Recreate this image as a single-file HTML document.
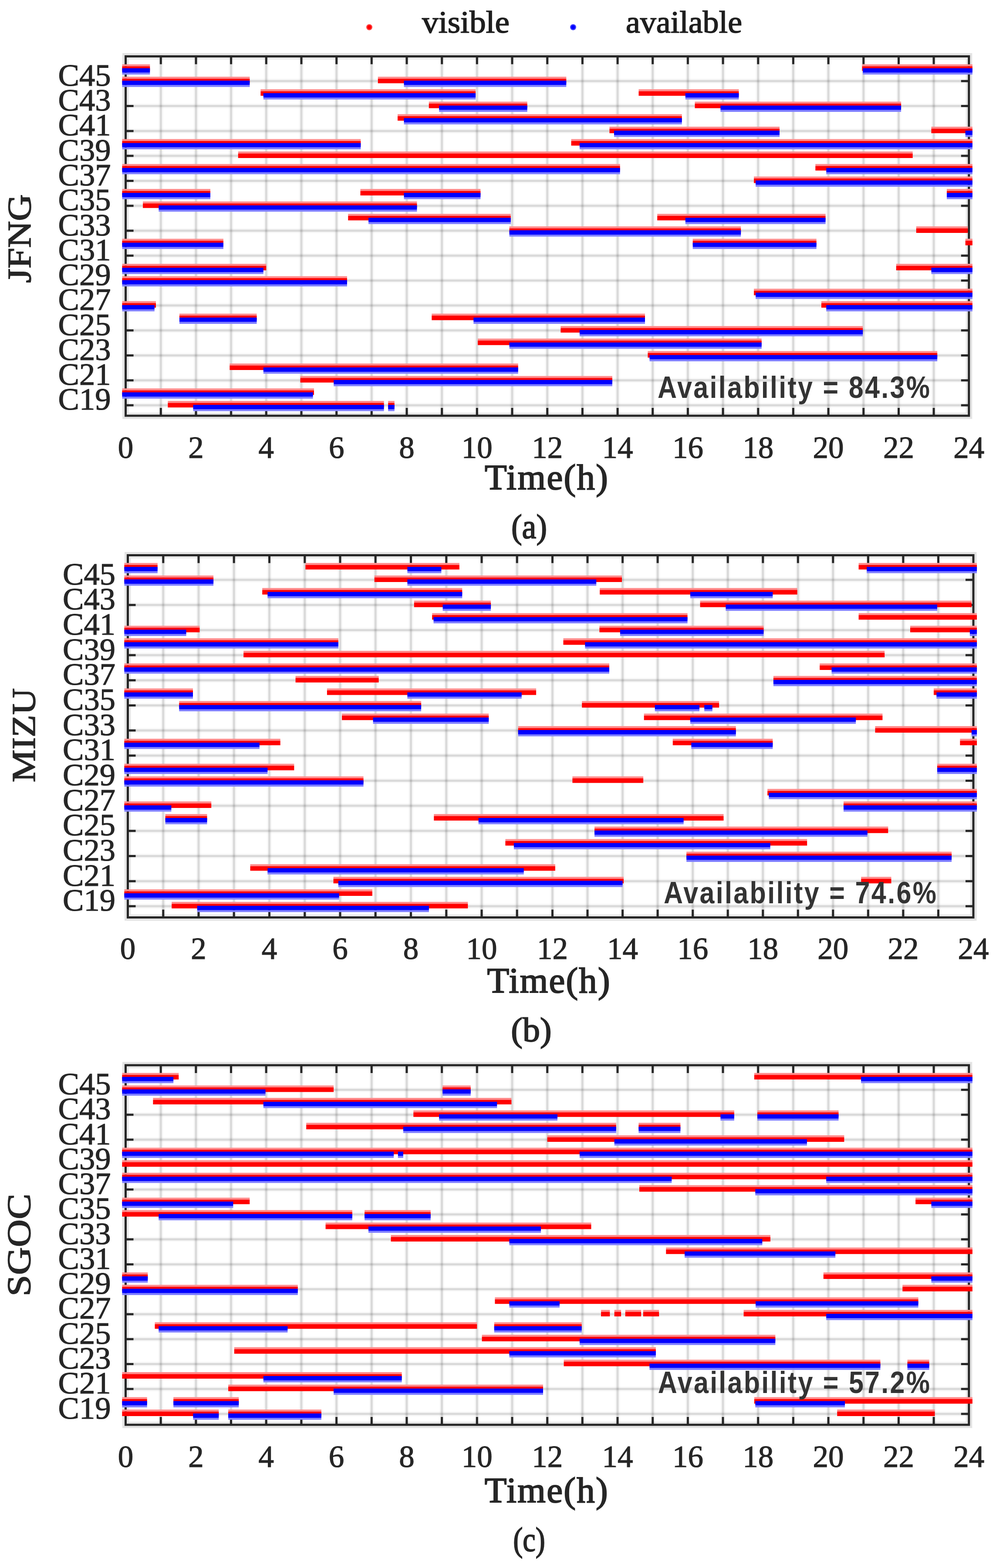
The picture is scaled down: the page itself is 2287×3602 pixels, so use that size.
<!DOCTYPE html>
<html><head><meta charset="utf-8"><title>Satellite visibility and availability</title>
<style>
html,body{margin:0;padding:0;background:#fff;}
body{width:2287px;height:3602px;overflow:hidden;}
svg{display:block;}
.yl{font-family:"Liberation Serif",serif;font-size:72px;fill:#262626;stroke:#262626;stroke-width:1.2px;}
.xl{font-family:"Liberation Serif",serif;font-size:71px;fill:#262626;stroke:#262626;stroke-width:1.2px;}
.tl{font-family:"Liberation Serif",serif;font-size:83px;fill:#262626;stroke:#262626;stroke-width:2.2px;}
.cap{font-family:"Liberation Serif",serif;font-size:78px;fill:#262626;stroke:#262626;stroke-width:2px;}
.nm{font-family:"Liberation Serif",serif;font-size:77px;fill:#262626;stroke:#262626;stroke-width:1.6px;}
.av{font-family:"Liberation Sans",sans-serif;font-size:71px;font-weight:bold;fill:#333;}
.lg{font-family:"Liberation Serif",serif;font-size:72px;fill:#1e1e1e;stroke:#1e1e1e;stroke-width:1.6px;}
</style></head>
<body><svg width="2287" height="3602" viewBox="0 0 2287 3602">
<rect width="2287" height="3602" fill="#fff"/>
<rect x="283.6" y="124.5" width="1946.2" height="835.5" fill="none" stroke="#e3e3e3" stroke-width="5"/>
<rect x="293.6" y="134.5" width="1926.2" height="815.5" fill="none" stroke="#e8e8e8" stroke-width="4"/>
<path d="M369.3 129.5V955.0M450.0 129.5V955.0M530.6 129.5V955.0M611.3 129.5V955.0M692.0 129.5V955.0M772.7 129.5V955.0M853.3 129.5V955.0M934.0 129.5V955.0M1014.7 129.5V955.0M1095.3 129.5V955.0M1176.0 129.5V955.0M1256.7 129.5V955.0M1337.4 129.5V955.0M1418.1 129.5V955.0M1498.7 129.5V955.0M1579.4 129.5V955.0M1660.1 129.5V955.0M1740.8 129.5V955.0M1821.4 129.5V955.0M1902.1 129.5V955.0M1982.8 129.5V955.0M2063.5 129.5V955.0M2144.1 129.5V955.0" stroke="#262626" stroke-opacity="0.03" stroke-width="11" fill="none"/>
<path d="M369.3 129.5V955.0M450.0 129.5V955.0M530.6 129.5V955.0M611.3 129.5V955.0M692.0 129.5V955.0M772.7 129.5V955.0M853.3 129.5V955.0M934.0 129.5V955.0M1014.7 129.5V955.0M1095.3 129.5V955.0M1176.0 129.5V955.0M1256.7 129.5V955.0M1337.4 129.5V955.0M1418.1 129.5V955.0M1498.7 129.5V955.0M1579.4 129.5V955.0M1660.1 129.5V955.0M1740.8 129.5V955.0M1821.4 129.5V955.0M1902.1 129.5V955.0M1982.8 129.5V955.0M2063.5 129.5V955.0M2144.1 129.5V955.0" stroke="#262626" stroke-opacity="0.14" stroke-width="5" fill="none"/>
<path d="M288.6 186.3H2224.8M288.6 243.6H2224.8M288.6 300.9H2224.8M288.6 358.1H2224.8M288.6 415.4H2224.8M288.6 472.7H2224.8M288.6 530.0H2224.8M288.6 587.3H2224.8M288.6 644.5H2224.8M288.6 701.8H2224.8M288.6 759.1H2224.8M288.6 816.4H2224.8M288.6 873.7H2224.8M288.6 930.9H2224.8" stroke="#262626" stroke-opacity="0.03" stroke-width="11" fill="none"/>
<path d="M288.6 186.3H2224.8M288.6 243.6H2224.8M288.6 300.9H2224.8M288.6 358.1H2224.8M288.6 415.4H2224.8M288.6 472.7H2224.8M288.6 530.0H2224.8M288.6 587.3H2224.8M288.6 644.5H2224.8M288.6 701.8H2224.8M288.6 759.1H2224.8M288.6 816.4H2224.8M288.6 873.7H2224.8M288.6 930.9H2224.8" stroke="#262626" stroke-opacity="0.14" stroke-width="5" fill="none"/>
<rect x="288.6" y="129.5" width="1936.2" height="825.5" fill="none" stroke="#262626" stroke-width="5"/>
<path d="M369.3 129.5v18M369.3 955.0v-18M450.0 129.5v18M450.0 955.0v-18M530.6 129.5v18M530.6 955.0v-18M611.3 129.5v18M611.3 955.0v-18M692.0 129.5v18M692.0 955.0v-18M772.7 129.5v18M772.7 955.0v-18M853.3 129.5v18M853.3 955.0v-18M934.0 129.5v18M934.0 955.0v-18M1014.7 129.5v18M1014.7 955.0v-18M1095.3 129.5v18M1095.3 955.0v-18M1176.0 129.5v18M1176.0 955.0v-18M1256.7 129.5v18M1256.7 955.0v-18M1337.4 129.5v18M1337.4 955.0v-18M1418.1 129.5v18M1418.1 955.0v-18M1498.7 129.5v18M1498.7 955.0v-18M1579.4 129.5v18M1579.4 955.0v-18M1660.1 129.5v18M1660.1 955.0v-18M1740.8 129.5v18M1740.8 955.0v-18M1821.4 129.5v18M1821.4 955.0v-18M1902.1 129.5v18M1902.1 955.0v-18M1982.8 129.5v18M1982.8 955.0v-18M2063.5 129.5v18M2063.5 955.0v-18M2144.1 129.5v18M2144.1 955.0v-18M288.6 186.3h18M2224.8 186.3h-18M288.6 243.6h18M2224.8 243.6h-18M288.6 300.9h18M2224.8 300.9h-18M288.6 358.1h18M2224.8 358.1h-18M288.6 415.4h18M2224.8 415.4h-18M288.6 472.7h18M2224.8 472.7h-18M288.6 530.0h18M2224.8 530.0h-18M288.6 587.3h18M2224.8 587.3h-18M288.6 644.5h18M2224.8 644.5h-18M288.6 701.8h18M2224.8 701.8h-18M288.6 759.1h18M2224.8 759.1h-18M288.6 816.4h18M2224.8 816.4h-18M288.6 873.7h18M2224.8 873.7h-18M288.6 930.9h18M2224.8 930.9h-18" stroke="#262626" stroke-width="5" fill="none"/>
<path d="M280.5 147.7H344.3V152.2H280.5ZM1979.5 147.7H2232.9V152.2H1979.5ZM280.5 176.3H573.4V180.8H280.5ZM867.8 176.3H1300.3V180.8H867.8ZM598.4 204.9H1092.1V209.4H598.4ZM1466.5 204.9H1696.4V209.4H1466.5ZM984.8 233.6H1210.7V238.1H984.8ZM1595.5 233.6H2069.1V238.1H1595.5ZM913.0 262.2H1565.7V266.7H913.0ZM1399.5 290.9H1790.0V295.4H1399.5ZM2138.5 290.9H2232.9V295.4H2138.5ZM280.5 319.5H828.3V324.0H280.5ZM1311.6 319.5H2232.9V324.0H1311.6ZM546.8 348.1H2095.7V352.6H546.8ZM280.5 376.8H1423.7V381.3H280.5ZM1872.3 376.8H2232.9V381.3H1872.3ZM1731.1 405.4H2232.9V409.9H1731.1ZM280.5 434.1H483.0V438.6H280.5ZM827.5 434.1H1103.4V438.6H827.5ZM2174.0 434.1H2232.9V438.6H2174.0ZM328.1 462.7H957.4V467.2H328.1ZM799.3 491.3H1172.8V495.8H799.3ZM1509.2 491.3H1895.6V495.8H1509.2ZM1169.6 520.0H1701.2V524.5H1169.6ZM2103.8 520.0H2222.4V524.5H2103.8ZM280.5 548.6H512.9V553.1H280.5ZM1590.7 548.6H1874.7V553.1H1590.7ZM2216.7 548.6H2232.9V553.1H2216.7ZM280.5 605.9H611.3V610.4H280.5ZM2057.8 605.9H2232.9V610.4H2057.8ZM280.5 634.5H796.9V639.0H280.5ZM1731.1 663.2H2232.9V667.7H1731.1ZM280.5 691.8H358.0V696.3H280.5ZM1886.0 691.8H2232.9V696.3H1886.0ZM412.0 720.5H589.5V725.0H412.0ZM991.3 720.5H1481.0V725.0H991.3ZM1287.4 749.1H1981.2V753.6H1287.4ZM1097.0 777.7H1748.8V782.2H1097.0ZM1487.4 806.4H2152.2V810.9H1487.4ZM527.4 835.0H1189.7V839.5H527.4ZM689.6 863.7H1405.9V868.2H689.6ZM280.5 892.3H721.0V896.8H280.5ZM385.4 920.9H881.6V925.4H385.4ZM891.2 920.9H905.8V925.4H891.2Z" fill="#ff8c8c"/>
<path d="M280.5 152.2H344.3V162.7H280.5ZM1979.5 152.2H2232.9V162.7H1979.5ZM280.5 180.8H573.4V191.3H280.5ZM867.8 180.8H1300.3V191.3H867.8ZM598.4 209.4H1092.1V219.9H598.4ZM1466.5 209.4H1696.4V219.9H1466.5ZM984.8 238.1H1210.7V248.6H984.8ZM1595.5 238.1H2069.1V248.6H1595.5ZM913.0 266.7H1565.7V277.2H913.0ZM1399.5 295.4H1790.0V305.9H1399.5ZM2138.5 295.4H2232.9V305.9H2138.5ZM280.5 324.0H828.3V334.5H280.5ZM1311.6 324.0H2232.9V334.5H1311.6ZM546.8 352.6H2095.7V363.1H546.8ZM280.5 381.3H1423.7V391.8H280.5ZM1872.3 381.3H2232.9V391.8H1872.3ZM1731.1 409.9H2232.9V420.4H1731.1ZM280.5 438.6H483.0V449.1H280.5ZM827.5 438.6H1103.4V449.1H827.5ZM2174.0 438.6H2232.9V449.1H2174.0ZM328.1 467.2H957.4V477.7H328.1ZM799.3 495.8H1172.8V506.3H799.3ZM1509.2 495.8H1895.6V506.3H1509.2ZM1169.6 524.5H1701.2V535.0H1169.6ZM2103.8 524.5H2222.4V535.0H2103.8ZM280.5 553.1H512.9V563.6H280.5ZM1590.7 553.1H1874.7V563.6H1590.7ZM2216.7 553.1H2232.9V563.6H2216.7ZM280.5 610.4H611.3V620.9H280.5ZM2057.8 610.4H2232.9V620.9H2057.8ZM280.5 639.0H796.9V649.5H280.5ZM1731.1 667.7H2232.9V678.2H1731.1ZM280.5 696.3H358.0V706.8H280.5ZM1886.0 696.3H2232.9V706.8H1886.0ZM412.0 725.0H589.5V735.5H412.0ZM991.3 725.0H1481.0V735.5H991.3ZM1287.4 753.6H1981.2V764.1H1287.4ZM1097.0 782.2H1748.8V792.7H1097.0ZM1487.4 810.9H2152.2V821.4H1487.4ZM527.4 839.5H1189.7V850.0H527.4ZM689.6 868.2H1405.9V878.7H689.6ZM280.5 896.8H721.0V907.3H280.5ZM385.4 925.4H881.6V935.9H385.4ZM891.2 925.4H905.8V935.9H891.2Z" fill="#ff0000"/>
<path d="M280.5 166.7H344.3V171.2H280.5ZM1981.2 166.7H2232.9V171.2H1981.2ZM280.5 195.3H573.4V199.8H280.5ZM927.5 195.3H1300.3V199.8H927.5ZM604.8 223.9H1092.1V228.4H604.8ZM1573.8 223.9H1696.4V228.4H1573.8ZM1008.2 252.6H1210.7V257.1H1008.2ZM1654.4 252.6H2069.1V257.1H1654.4ZM927.5 281.2H1565.7V285.7H927.5ZM1410.0 309.9H1790.0V314.4H1410.0ZM2216.7 309.9H2232.9V314.4H2216.7ZM280.5 338.5H828.3V343.0H280.5ZM1330.9 338.5H2232.9V343.0H1330.9ZM280.5 395.8H1423.7V400.3H280.5ZM1897.3 395.8H2232.9V400.3H1897.3ZM1735.1 424.4H2232.9V428.9H1735.1ZM280.5 453.1H483.0V457.6H280.5ZM927.5 453.1H1103.4V457.6H927.5ZM2174.0 453.1H2232.9V457.6H2174.0ZM364.4 481.7H957.4V486.2H364.4ZM846.1 510.3H1172.8V514.8H846.1ZM1573.8 510.3H1895.6V514.8H1573.8ZM1169.6 539.0H1701.2V543.5H1169.6ZM280.5 567.6H512.9V572.1H280.5ZM1590.7 567.6H1874.7V572.1H1590.7ZM280.5 624.9H604.8V629.4H280.5ZM2138.5 624.9H2232.9V629.4H2138.5ZM280.5 653.5H796.9V658.0H280.5ZM1735.1 682.2H2232.9V686.7H1735.1ZM280.5 710.8H354.8V715.3H280.5ZM1897.3 710.8H2232.9V715.3H1897.3ZM412.0 739.5H589.5V744.0H412.0ZM1087.3 739.5H1481.0V744.0H1087.3ZM1330.9 768.1H1981.2V772.6H1330.9ZM1169.6 796.7H1748.8V801.2H1169.6ZM1491.5 825.4H2152.2V829.9H1491.5ZM604.8 854.0H1189.7V858.5H604.8ZM766.2 882.7H1405.9V887.2H766.2ZM280.5 911.3H718.6V915.8H280.5ZM443.5 939.9H881.6V944.4H443.5ZM891.2 939.9H905.8V944.4H891.2Z" fill="#8080ff"/>
<path d="M280.5 156.7H344.3V166.7H280.5ZM1981.2 156.7H2232.9V166.7H1981.2ZM280.5 185.3H573.4V195.3H280.5ZM927.5 185.3H1300.3V195.3H927.5ZM604.8 213.9H1092.1V223.9H604.8ZM1573.8 213.9H1696.4V223.9H1573.8ZM1008.2 242.6H1210.7V252.6H1008.2ZM1654.4 242.6H2069.1V252.6H1654.4ZM927.5 271.2H1565.7V281.2H927.5ZM1410.0 299.9H1790.0V309.9H1410.0ZM2216.7 299.9H2232.9V309.9H2216.7ZM280.5 328.5H828.3V338.5H280.5ZM1330.9 328.5H2232.9V338.5H1330.9ZM280.5 385.8H1423.7V395.8H280.5ZM1897.3 385.8H2232.9V395.8H1897.3ZM1735.1 414.4H2232.9V424.4H1735.1ZM280.5 443.1H483.0V453.1H280.5ZM927.5 443.1H1103.4V453.1H927.5ZM2174.0 443.1H2232.9V453.1H2174.0ZM364.4 471.7H957.4V481.7H364.4ZM846.1 500.3H1172.8V510.3H846.1ZM1573.8 500.3H1895.6V510.3H1573.8ZM1169.6 529.0H1701.2V539.0H1169.6ZM280.5 557.6H512.9V567.6H280.5ZM1590.7 557.6H1874.7V567.6H1590.7ZM280.5 614.9H604.8V624.9H280.5ZM2138.5 614.9H2232.9V624.9H2138.5ZM280.5 643.5H796.9V653.5H280.5ZM1735.1 672.2H2232.9V682.2H1735.1ZM280.5 700.8H354.8V710.8H280.5ZM1897.3 700.8H2232.9V710.8H1897.3ZM412.0 729.5H589.5V739.5H412.0ZM1087.3 729.5H1481.0V739.5H1087.3ZM1330.9 758.1H1981.2V768.1H1330.9ZM1169.6 786.7H1748.8V796.7H1169.6ZM1491.5 815.4H2152.2V825.4H1491.5ZM604.8 844.0H1189.7V854.0H604.8ZM766.2 872.7H1405.9V882.7H766.2ZM280.5 901.3H718.6V911.3H280.5ZM443.5 929.9H881.6V939.9H443.5ZM891.2 929.9H905.8V939.9H891.2Z" fill="#0000ff"/>
<text x="254.5" y="196.8" class="yl" text-anchor="end" textLength="121" lengthAdjust="spacingAndGlyphs">C45</text>
<text x="254.5" y="254.1" class="yl" text-anchor="end" textLength="121" lengthAdjust="spacingAndGlyphs">C43</text>
<text x="254.5" y="311.4" class="yl" text-anchor="end" textLength="121" lengthAdjust="spacingAndGlyphs">C41</text>
<text x="254.5" y="368.6" class="yl" text-anchor="end" textLength="121" lengthAdjust="spacingAndGlyphs">C39</text>
<text x="254.5" y="425.9" class="yl" text-anchor="end" textLength="121" lengthAdjust="spacingAndGlyphs">C37</text>
<text x="254.5" y="483.2" class="yl" text-anchor="end" textLength="121" lengthAdjust="spacingAndGlyphs">C35</text>
<text x="254.5" y="540.5" class="yl" text-anchor="end" textLength="121" lengthAdjust="spacingAndGlyphs">C33</text>
<text x="254.5" y="597.8" class="yl" text-anchor="end" textLength="121" lengthAdjust="spacingAndGlyphs">C31</text>
<text x="254.5" y="655.0" class="yl" text-anchor="end" textLength="121" lengthAdjust="spacingAndGlyphs">C29</text>
<text x="254.5" y="712.3" class="yl" text-anchor="end" textLength="121" lengthAdjust="spacingAndGlyphs">C27</text>
<text x="254.5" y="769.6" class="yl" text-anchor="end" textLength="121" lengthAdjust="spacingAndGlyphs">C25</text>
<text x="254.5" y="826.9" class="yl" text-anchor="end" textLength="121" lengthAdjust="spacingAndGlyphs">C23</text>
<text x="254.5" y="884.2" class="yl" text-anchor="end" textLength="121" lengthAdjust="spacingAndGlyphs">C21</text>
<text x="254.5" y="941.4" class="yl" text-anchor="end" textLength="121" lengthAdjust="spacingAndGlyphs">C19</text>
<text x="288.6" y="1051.5" class="xl" text-anchor="middle">0</text>
<text x="450.0" y="1051.5" class="xl" text-anchor="middle">2</text>
<text x="611.3" y="1051.5" class="xl" text-anchor="middle">4</text>
<text x="772.7" y="1051.5" class="xl" text-anchor="middle">6</text>
<text x="934.0" y="1051.5" class="xl" text-anchor="middle">8</text>
<text x="1095.3" y="1051.5" class="xl" text-anchor="middle">10</text>
<text x="1256.7" y="1051.5" class="xl" text-anchor="middle">12</text>
<text x="1418.1" y="1051.5" class="xl" text-anchor="middle">14</text>
<text x="1579.4" y="1051.5" class="xl" text-anchor="middle">16</text>
<text x="1740.8" y="1051.5" class="xl" text-anchor="middle">18</text>
<text x="1902.1" y="1051.5" class="xl" text-anchor="middle">20</text>
<text x="2063.5" y="1051.5" class="xl" text-anchor="middle">22</text>
<text x="2224.8" y="1051.5" class="xl" text-anchor="middle">24</text>
<text x="1113.0" y="1123.5" class="tl" textLength="283.0" lengthAdjust="spacing">Time(h)</text>
<text x="1174.0" y="1236.0" class="cap" textLength="82.0" lengthAdjust="spacingAndGlyphs">(a)</text>
<text transform="translate(70.0,650.0) rotate(-90)" x="0" y="0" class="nm" textLength="204.0" lengthAdjust="spacingAndGlyphs">JFNG</text>
<text transform="translate(1510.0,913.5) scale(0.86,1)" x="0" y="0" class="av" textLength="726.7" lengthAdjust="spacing">Availability = 84.3%</text>
<rect x="288.5" y="1270.5" width="1951.5" height="842.0" fill="none" stroke="#e3e3e3" stroke-width="5"/>
<rect x="298.5" y="1280.5" width="1931.5" height="822.0" fill="none" stroke="#e8e8e8" stroke-width="4"/>
<path d="M374.8 1275.5V2107.5M456.0 1275.5V2107.5M537.2 1275.5V2107.5M618.5 1275.5V2107.5M699.8 1275.5V2107.5M781.0 1275.5V2107.5M862.2 1275.5V2107.5M943.5 1275.5V2107.5M1024.8 1275.5V2107.5M1106.0 1275.5V2107.5M1187.2 1275.5V2107.5M1268.5 1275.5V2107.5M1349.0 1275.5V2107.5M1429.6 1275.5V2107.5M1510.1 1275.5V2107.5M1590.7 1275.5V2107.5M1671.2 1275.5V2107.5M1751.8 1275.5V2107.5M1832.3 1275.5V2107.5M1912.8 1275.5V2107.5M1993.4 1275.5V2107.5M2073.9 1275.5V2107.5M2154.5 1275.5V2107.5" stroke="#262626" stroke-opacity="0.03" stroke-width="11" fill="none"/>
<path d="M374.8 1275.5V2107.5M456.0 1275.5V2107.5M537.2 1275.5V2107.5M618.5 1275.5V2107.5M699.8 1275.5V2107.5M781.0 1275.5V2107.5M862.2 1275.5V2107.5M943.5 1275.5V2107.5M1024.8 1275.5V2107.5M1106.0 1275.5V2107.5M1187.2 1275.5V2107.5M1268.5 1275.5V2107.5M1349.0 1275.5V2107.5M1429.6 1275.5V2107.5M1510.1 1275.5V2107.5M1590.7 1275.5V2107.5M1671.2 1275.5V2107.5M1751.8 1275.5V2107.5M1832.3 1275.5V2107.5M1912.8 1275.5V2107.5M1993.4 1275.5V2107.5M2073.9 1275.5V2107.5M2154.5 1275.5V2107.5" stroke="#262626" stroke-opacity="0.14" stroke-width="5" fill="none"/>
<path d="M293.5 1332.0H2235.0M293.5 1389.7H2235.0M293.5 1447.4H2235.0M293.5 1505.0H2235.0M293.5 1562.7H2235.0M293.5 1620.4H2235.0M293.5 1678.1H2235.0M293.5 1735.8H2235.0M293.5 1793.4H2235.0M293.5 1851.1H2235.0M293.5 1908.8H2235.0M293.5 1966.5H2235.0M293.5 2024.2H2235.0M293.5 2081.8H2235.0" stroke="#262626" stroke-opacity="0.03" stroke-width="11" fill="none"/>
<path d="M293.5 1332.0H2235.0M293.5 1389.7H2235.0M293.5 1447.4H2235.0M293.5 1505.0H2235.0M293.5 1562.7H2235.0M293.5 1620.4H2235.0M293.5 1678.1H2235.0M293.5 1735.8H2235.0M293.5 1793.4H2235.0M293.5 1851.1H2235.0M293.5 1908.8H2235.0M293.5 1966.5H2235.0M293.5 2024.2H2235.0M293.5 2081.8H2235.0" stroke="#262626" stroke-opacity="0.14" stroke-width="5" fill="none"/>
<rect x="293.5" y="1275.5" width="1941.5" height="832.0" fill="none" stroke="#262626" stroke-width="5"/>
<path d="M374.8 1275.5v18M374.8 2107.5v-18M456.0 1275.5v18M456.0 2107.5v-18M537.2 1275.5v18M537.2 2107.5v-18M618.5 1275.5v18M618.5 2107.5v-18M699.8 1275.5v18M699.8 2107.5v-18M781.0 1275.5v18M781.0 2107.5v-18M862.2 1275.5v18M862.2 2107.5v-18M943.5 1275.5v18M943.5 2107.5v-18M1024.8 1275.5v18M1024.8 2107.5v-18M1106.0 1275.5v18M1106.0 2107.5v-18M1187.2 1275.5v18M1187.2 2107.5v-18M1268.5 1275.5v18M1268.5 2107.5v-18M1349.0 1275.5v18M1349.0 2107.5v-18M1429.6 1275.5v18M1429.6 2107.5v-18M1510.1 1275.5v18M1510.1 2107.5v-18M1590.7 1275.5v18M1590.7 2107.5v-18M1671.2 1275.5v18M1671.2 2107.5v-18M1751.8 1275.5v18M1751.8 2107.5v-18M1832.3 1275.5v18M1832.3 2107.5v-18M1912.8 1275.5v18M1912.8 2107.5v-18M1993.4 1275.5v18M1993.4 2107.5v-18M2073.9 1275.5v18M2073.9 2107.5v-18M2154.5 1275.5v18M2154.5 2107.5v-18M293.5 1332.0h18M2235.0 1332.0h-18M293.5 1389.7h18M2235.0 1389.7h-18M293.5 1447.4h18M2235.0 1447.4h-18M293.5 1505.0h18M2235.0 1505.0h-18M293.5 1562.7h18M2235.0 1562.7h-18M293.5 1620.4h18M2235.0 1620.4h-18M293.5 1678.1h18M2235.0 1678.1h-18M293.5 1735.8h18M2235.0 1735.8h-18M293.5 1793.4h18M2235.0 1793.4h-18M293.5 1851.1h18M2235.0 1851.1h-18M293.5 1908.8h18M2235.0 1908.8h-18M293.5 1966.5h18M2235.0 1966.5h-18M293.5 2024.2h18M2235.0 2024.2h-18M293.5 2081.8h18M2235.0 2081.8h-18" stroke="#262626" stroke-width="5" fill="none"/>
<path d="M285.4 1293.2H361.8V1297.7H285.4ZM701.4 1293.2H1054.8V1297.7H701.4ZM1971.6 1293.2H2243.1V1297.7H1971.6ZM285.4 1322.0H490.1V1326.5H285.4ZM859.8 1322.0H1428.0V1326.5H859.8ZM602.2 1350.8H1061.3V1355.3H602.2ZM1377.2 1350.8H1830.7V1355.3H1377.2ZM950.8 1379.7H1127.1V1384.2H950.8ZM1607.6 1379.7H2231.0V1384.2H1607.6ZM992.2 1408.5H1578.6V1413.0H992.2ZM1971.6 1408.5H2243.1V1413.0H1971.6ZM285.4 1437.4H458.4V1441.9H285.4ZM1376.4 1437.4H1753.4V1441.9H1376.4ZM2090.0 1437.4H2243.1V1441.9H2090.0ZM285.4 1466.2H776.9V1470.7H285.4ZM1293.5 1466.2H2243.1V1470.7H1293.5ZM559.2 1495.0H2031.2V1499.5H559.2ZM285.4 1523.9H1399.0V1528.4H285.4ZM1882.2 1523.9H2243.1V1528.4H1882.2ZM678.6 1552.7H869.6V1557.2H678.6ZM1775.9 1552.7H2243.1V1557.2H1775.9ZM285.4 1581.6H443.0V1586.1H285.4ZM750.9 1581.6H1231.1V1586.1H750.9ZM2144.0 1581.6H2243.1V1586.1H2144.0ZM411.3 1610.4H967.1V1614.9H411.3ZM1336.2 1610.4H1651.1V1614.9H1336.2ZM785.1 1639.2H1122.2V1643.7H785.1ZM1478.7 1639.2H2026.4V1643.7H1478.7ZM1189.7 1668.1H1689.7V1672.6H1189.7ZM2009.5 1668.1H2243.1V1672.6H2009.5ZM285.4 1696.9H643.7V1701.4H285.4ZM1544.8 1696.9H1774.3V1701.4H1544.8ZM2204.4 1696.9H2243.1V1701.4H2204.4ZM285.4 1754.6H675.4V1759.1H285.4ZM2152.0 1754.6H2243.1V1759.1H2152.0ZM285.4 1783.4H834.6V1787.9H285.4ZM1314.4 1783.4H1477.1V1787.9H1314.4ZM1762.2 1812.3H2243.1V1816.8H1762.2ZM285.4 1841.1H485.2V1845.6H285.4ZM1937.0 1841.1H2243.1V1845.6H1937.0ZM379.6 1870.0H475.5V1874.5H379.6ZM996.3 1870.0H1661.5V1874.5H996.3ZM1365.1 1898.8H2039.3V1903.3H1365.1ZM1160.4 1927.6H1853.2V1932.1H1160.4ZM1576.2 1956.5H2185.1V1961.0H1576.2ZM574.6 1985.3H1274.9V1989.8H574.6ZM765.6 2014.2H1432.0V2018.7H765.6ZM1977.3 2014.2H2046.5V2018.7H1977.3ZM285.4 2043.0H854.9V2047.5H285.4ZM394.2 2071.8H1074.3V2076.3H394.2Z" fill="#ff8c8c"/>
<path d="M285.4 1297.7H361.8V1308.2H285.4ZM701.4 1297.7H1054.8V1308.2H701.4ZM1971.6 1297.7H2243.1V1308.2H1971.6ZM285.4 1326.5H490.1V1337.0H285.4ZM859.8 1326.5H1428.0V1337.0H859.8ZM602.2 1355.3H1061.3V1365.8H602.2ZM1377.2 1355.3H1830.7V1365.8H1377.2ZM950.8 1384.2H1127.1V1394.7H950.8ZM1607.6 1384.2H2231.0V1394.7H1607.6ZM992.2 1413.0H1578.6V1423.5H992.2ZM1971.6 1413.0H2243.1V1423.5H1971.6ZM285.4 1441.9H458.4V1452.4H285.4ZM1376.4 1441.9H1753.4V1452.4H1376.4ZM2090.0 1441.9H2243.1V1452.4H2090.0ZM285.4 1470.7H776.9V1481.2H285.4ZM1293.5 1470.7H2243.1V1481.2H1293.5ZM559.2 1499.5H2031.2V1510.0H559.2ZM285.4 1528.4H1399.0V1538.9H285.4ZM1882.2 1528.4H2243.1V1538.9H1882.2ZM678.6 1557.2H869.6V1567.7H678.6ZM1775.9 1557.2H2243.1V1567.7H1775.9ZM285.4 1586.1H443.0V1596.6H285.4ZM750.9 1586.1H1231.1V1596.6H750.9ZM2144.0 1586.1H2243.1V1596.6H2144.0ZM411.3 1614.9H967.1V1625.4H411.3ZM1336.2 1614.9H1651.1V1625.4H1336.2ZM785.1 1643.7H1122.2V1654.2H785.1ZM1478.7 1643.7H2026.4V1654.2H1478.7ZM1189.7 1672.6H1689.7V1683.1H1189.7ZM2009.5 1672.6H2243.1V1683.1H2009.5ZM285.4 1701.4H643.7V1711.9H285.4ZM1544.8 1701.4H1774.3V1711.9H1544.8ZM2204.4 1701.4H2243.1V1711.9H2204.4ZM285.4 1759.1H675.4V1769.6H285.4ZM2152.0 1759.1H2243.1V1769.6H2152.0ZM285.4 1787.9H834.6V1798.4H285.4ZM1314.4 1787.9H1477.1V1798.4H1314.4ZM1762.2 1816.8H2243.1V1827.3H1762.2ZM285.4 1845.6H485.2V1856.1H285.4ZM1937.0 1845.6H2243.1V1856.1H1937.0ZM379.6 1874.5H475.5V1885.0H379.6ZM996.3 1874.5H1661.5V1885.0H996.3ZM1365.1 1903.3H2039.3V1913.8H1365.1ZM1160.4 1932.1H1853.2V1942.6H1160.4ZM1576.2 1961.0H2185.1V1971.5H1576.2ZM574.6 1989.8H1274.9V2000.3H574.6ZM765.6 2018.7H1432.0V2029.2H765.6ZM1977.3 2018.7H2046.5V2029.2H1977.3ZM285.4 2047.5H854.9V2058.0H285.4ZM394.2 2076.3H1074.3V2086.8H394.2Z" fill="#ff0000"/>
<path d="M285.4 1312.2H361.8V1316.7H285.4ZM935.4 1312.2H1013.4V1316.7H935.4ZM1990.2 1312.2H2243.1V1316.7H1990.2ZM285.4 1341.0H490.1V1345.5H285.4ZM935.4 1341.0H1369.2V1345.5H935.4ZM614.4 1369.8H1061.3V1374.3H614.4ZM1585.0 1369.8H1774.3V1374.3H1585.0ZM1016.6 1398.7H1127.1V1403.2H1016.6ZM1666.4 1398.7H2152.0V1403.2H1666.4ZM995.5 1427.5H1578.6V1432.0H995.5ZM285.4 1456.4H427.6V1460.9H285.4ZM1423.9 1456.4H1753.4V1460.9H1423.9ZM2226.9 1456.4H2243.1V1460.9H2226.9ZM285.4 1485.2H776.9V1489.7H285.4ZM1343.4 1485.2H2243.1V1489.7H1343.4ZM285.4 1542.9H1399.0V1547.4H285.4ZM1909.6 1542.9H2243.1V1547.4H1909.6ZM1775.9 1571.7H2243.1V1576.2H1775.9ZM285.4 1600.6H443.0V1605.1H285.4ZM935.4 1600.6H1197.8V1605.1H935.4ZM2150.4 1600.6H2243.1V1605.1H2150.4ZM411.3 1629.4H967.1V1633.9H411.3ZM1503.7 1629.4H1606.0V1633.9H1503.7ZM1617.2 1629.4H1635.8V1633.9H1617.2ZM856.6 1658.2H1122.2V1662.7H856.6ZM1585.0 1658.2H1965.2V1662.7H1585.0ZM1189.7 1687.1H1689.7V1691.6H1189.7ZM2231.0 1687.1H2243.1V1691.6H2231.0ZM285.4 1715.9H595.8V1720.4H285.4ZM1587.4 1715.9H1774.3V1720.4H1587.4ZM285.4 1773.6H614.4V1778.1H285.4ZM2152.0 1773.6H2243.1V1778.1H2152.0ZM285.4 1802.4H834.6V1806.9H285.4ZM1765.4 1831.3H2243.1V1835.8H1765.4ZM285.4 1860.1H393.4V1864.6H285.4ZM1937.0 1860.1H2243.1V1864.6H1937.0ZM379.6 1889.0H475.5V1893.5H379.6ZM1098.7 1889.0H1569.7V1893.5H1098.7ZM1365.1 1917.8H1991.8V1922.3H1365.1ZM1179.9 1946.6H1768.7V1951.1H1179.9ZM1576.2 1975.5H2185.1V1980.0H1576.2ZM614.4 2004.3H1202.7V2008.8H614.4ZM776.9 2033.2H1429.6V2037.7H776.9ZM285.4 2062.0H778.6V2066.5H285.4ZM452.8 2090.8H984.9V2095.3H452.8Z" fill="#8080ff"/>
<path d="M285.4 1302.2H361.8V1312.2H285.4ZM935.4 1302.2H1013.4V1312.2H935.4ZM1990.2 1302.2H2243.1V1312.2H1990.2ZM285.4 1331.0H490.1V1341.0H285.4ZM935.4 1331.0H1369.2V1341.0H935.4ZM614.4 1359.8H1061.3V1369.8H614.4ZM1585.0 1359.8H1774.3V1369.8H1585.0ZM1016.6 1388.7H1127.1V1398.7H1016.6ZM1666.4 1388.7H2152.0V1398.7H1666.4ZM995.5 1417.5H1578.6V1427.5H995.5ZM285.4 1446.4H427.6V1456.4H285.4ZM1423.9 1446.4H1753.4V1456.4H1423.9ZM2226.9 1446.4H2243.1V1456.4H2226.9ZM285.4 1475.2H776.9V1485.2H285.4ZM1343.4 1475.2H2243.1V1485.2H1343.4ZM285.4 1532.9H1399.0V1542.9H285.4ZM1909.6 1532.9H2243.1V1542.9H1909.6ZM1775.9 1561.7H2243.1V1571.7H1775.9ZM285.4 1590.6H443.0V1600.6H285.4ZM935.4 1590.6H1197.8V1600.6H935.4ZM2150.4 1590.6H2243.1V1600.6H2150.4ZM411.3 1619.4H967.1V1629.4H411.3ZM1503.7 1619.4H1606.0V1629.4H1503.7ZM1617.2 1619.4H1635.8V1629.4H1617.2ZM856.6 1648.2H1122.2V1658.2H856.6ZM1585.0 1648.2H1965.2V1658.2H1585.0ZM1189.7 1677.1H1689.7V1687.1H1189.7ZM2231.0 1677.1H2243.1V1687.1H2231.0ZM285.4 1705.9H595.8V1715.9H285.4ZM1587.4 1705.9H1774.3V1715.9H1587.4ZM285.4 1763.6H614.4V1773.6H285.4ZM2152.0 1763.6H2243.1V1773.6H2152.0ZM285.4 1792.4H834.6V1802.4H285.4ZM1765.4 1821.3H2243.1V1831.3H1765.4ZM285.4 1850.1H393.4V1860.1H285.4ZM1937.0 1850.1H2243.1V1860.1H1937.0ZM379.6 1879.0H475.5V1889.0H379.6ZM1098.7 1879.0H1569.7V1889.0H1098.7ZM1365.1 1907.8H1991.8V1917.8H1365.1ZM1179.9 1936.6H1768.7V1946.6H1179.9ZM1576.2 1965.5H2185.1V1975.5H1576.2ZM614.4 1994.3H1202.7V2004.3H614.4ZM776.9 2023.2H1429.6V2033.2H776.9ZM285.4 2052.0H778.6V2062.0H285.4ZM452.8 2080.8H984.9V2090.8H452.8Z" fill="#0000ff"/>
<text x="265.0" y="1342.5" class="yl" text-anchor="end" textLength="121" lengthAdjust="spacingAndGlyphs">C45</text>
<text x="265.0" y="1400.2" class="yl" text-anchor="end" textLength="121" lengthAdjust="spacingAndGlyphs">C43</text>
<text x="265.0" y="1457.9" class="yl" text-anchor="end" textLength="121" lengthAdjust="spacingAndGlyphs">C41</text>
<text x="265.0" y="1515.5" class="yl" text-anchor="end" textLength="121" lengthAdjust="spacingAndGlyphs">C39</text>
<text x="265.0" y="1573.2" class="yl" text-anchor="end" textLength="121" lengthAdjust="spacingAndGlyphs">C37</text>
<text x="265.0" y="1630.9" class="yl" text-anchor="end" textLength="121" lengthAdjust="spacingAndGlyphs">C35</text>
<text x="265.0" y="1688.6" class="yl" text-anchor="end" textLength="121" lengthAdjust="spacingAndGlyphs">C33</text>
<text x="265.0" y="1746.3" class="yl" text-anchor="end" textLength="121" lengthAdjust="spacingAndGlyphs">C31</text>
<text x="265.0" y="1803.9" class="yl" text-anchor="end" textLength="121" lengthAdjust="spacingAndGlyphs">C29</text>
<text x="265.0" y="1861.6" class="yl" text-anchor="end" textLength="121" lengthAdjust="spacingAndGlyphs">C27</text>
<text x="265.0" y="1919.3" class="yl" text-anchor="end" textLength="121" lengthAdjust="spacingAndGlyphs">C25</text>
<text x="265.0" y="1977.0" class="yl" text-anchor="end" textLength="121" lengthAdjust="spacingAndGlyphs">C23</text>
<text x="265.0" y="2034.7" class="yl" text-anchor="end" textLength="121" lengthAdjust="spacingAndGlyphs">C21</text>
<text x="265.0" y="2092.3" class="yl" text-anchor="end" textLength="121" lengthAdjust="spacingAndGlyphs">C19</text>
<text x="293.5" y="2203.0" class="xl" text-anchor="middle">0</text>
<text x="456.0" y="2203.0" class="xl" text-anchor="middle">2</text>
<text x="618.5" y="2203.0" class="xl" text-anchor="middle">4</text>
<text x="781.0" y="2203.0" class="xl" text-anchor="middle">6</text>
<text x="943.5" y="2203.0" class="xl" text-anchor="middle">8</text>
<text x="1106.0" y="2203.0" class="xl" text-anchor="middle">10</text>
<text x="1268.5" y="2203.0" class="xl" text-anchor="middle">12</text>
<text x="1429.6" y="2203.0" class="xl" text-anchor="middle">14</text>
<text x="1590.7" y="2203.0" class="xl" text-anchor="middle">16</text>
<text x="1751.8" y="2203.0" class="xl" text-anchor="middle">18</text>
<text x="1912.8" y="2203.0" class="xl" text-anchor="middle">20</text>
<text x="2073.9" y="2203.0" class="xl" text-anchor="middle">22</text>
<text x="2235.0" y="2203.0" class="xl" text-anchor="middle">24</text>
<text x="1118.4" y="2279.6" class="tl" textLength="282.2" lengthAdjust="spacing">Time(h)</text>
<text x="1173.3" y="2391.5" class="cap" textLength="93.2" lengthAdjust="spacingAndGlyphs">(b)</text>
<text transform="translate(79.7,1797.0) rotate(-90)" x="0" y="0" class="nm" textLength="216.0" lengthAdjust="spacingAndGlyphs">MIZU</text>
<text transform="translate(1524.0,2075.0) scale(0.86,1)" x="0" y="0" class="av" textLength="727.9" lengthAdjust="spacing">Availability = 74.6%</text>
<rect x="283.5" y="2442.0" width="1946.3" height="836.0" fill="none" stroke="#e3e3e3" stroke-width="5"/>
<rect x="293.5" y="2452.0" width="1926.3" height="816.0" fill="none" stroke="#e8e8e8" stroke-width="4"/>
<path d="M369.2 2447.0V3273.0M449.9 2447.0V3273.0M530.5 2447.0V3273.0M611.2 2447.0V3273.0M691.9 2447.0V3273.0M772.6 2447.0V3273.0M853.3 2447.0V3273.0M933.9 2447.0V3273.0M1014.6 2447.0V3273.0M1095.3 2447.0V3273.0M1176.0 2447.0V3273.0M1256.7 2447.0V3273.0M1337.3 2447.0V3273.0M1418.0 2447.0V3273.0M1498.7 2447.0V3273.0M1579.4 2447.0V3273.0M1660.0 2447.0V3273.0M1740.7 2447.0V3273.0M1821.4 2447.0V3273.0M1902.1 2447.0V3273.0M1982.8 2447.0V3273.0M2063.4 2447.0V3273.0M2144.1 2447.0V3273.0" stroke="#262626" stroke-opacity="0.03" stroke-width="11" fill="none"/>
<path d="M369.2 2447.0V3273.0M449.9 2447.0V3273.0M530.5 2447.0V3273.0M611.2 2447.0V3273.0M691.9 2447.0V3273.0M772.6 2447.0V3273.0M853.3 2447.0V3273.0M933.9 2447.0V3273.0M1014.6 2447.0V3273.0M1095.3 2447.0V3273.0M1176.0 2447.0V3273.0M1256.7 2447.0V3273.0M1337.3 2447.0V3273.0M1418.0 2447.0V3273.0M1498.7 2447.0V3273.0M1579.4 2447.0V3273.0M1660.0 2447.0V3273.0M1740.7 2447.0V3273.0M1821.4 2447.0V3273.0M1902.1 2447.0V3273.0M1982.8 2447.0V3273.0M2063.4 2447.0V3273.0M2144.1 2447.0V3273.0" stroke="#262626" stroke-opacity="0.14" stroke-width="5" fill="none"/>
<path d="M288.5 2503.4H2224.8M288.5 2560.7H2224.8M288.5 2618.0H2224.8M288.5 2675.2H2224.8M288.5 2732.5H2224.8M288.5 2789.8H2224.8M288.5 2847.1H2224.8M288.5 2904.4H2224.8M288.5 2961.6H2224.8M288.5 3018.9H2224.8M288.5 3076.2H2224.8M288.5 3133.5H2224.8M288.5 3190.8H2224.8M288.5 3248.0H2224.8" stroke="#262626" stroke-opacity="0.03" stroke-width="11" fill="none"/>
<path d="M288.5 2503.4H2224.8M288.5 2560.7H2224.8M288.5 2618.0H2224.8M288.5 2675.2H2224.8M288.5 2732.5H2224.8M288.5 2789.8H2224.8M288.5 2847.1H2224.8M288.5 2904.4H2224.8M288.5 2961.6H2224.8M288.5 3018.9H2224.8M288.5 3076.2H2224.8M288.5 3133.5H2224.8M288.5 3190.8H2224.8M288.5 3248.0H2224.8" stroke="#262626" stroke-opacity="0.14" stroke-width="5" fill="none"/>
<rect x="288.5" y="2447.0" width="1936.3" height="826.0" fill="none" stroke="#262626" stroke-width="5"/>
<path d="M369.2 2447.0v18M369.2 3273.0v-18M449.9 2447.0v18M449.9 3273.0v-18M530.5 2447.0v18M530.5 3273.0v-18M611.2 2447.0v18M611.2 3273.0v-18M691.9 2447.0v18M691.9 3273.0v-18M772.6 2447.0v18M772.6 3273.0v-18M853.3 2447.0v18M853.3 3273.0v-18M933.9 2447.0v18M933.9 3273.0v-18M1014.6 2447.0v18M1014.6 3273.0v-18M1095.3 2447.0v18M1095.3 3273.0v-18M1176.0 2447.0v18M1176.0 3273.0v-18M1256.7 2447.0v18M1256.7 3273.0v-18M1337.3 2447.0v18M1337.3 3273.0v-18M1418.0 2447.0v18M1418.0 3273.0v-18M1498.7 2447.0v18M1498.7 3273.0v-18M1579.4 2447.0v18M1579.4 3273.0v-18M1660.0 2447.0v18M1660.0 3273.0v-18M1740.7 2447.0v18M1740.7 3273.0v-18M1821.4 2447.0v18M1821.4 3273.0v-18M1902.1 2447.0v18M1902.1 3273.0v-18M1982.8 2447.0v18M1982.8 3273.0v-18M2063.4 2447.0v18M2063.4 3273.0v-18M2144.1 2447.0v18M2144.1 3273.0v-18M288.5 2503.4h18M2224.8 2503.4h-18M288.5 2560.7h18M2224.8 2560.7h-18M288.5 2618.0h18M2224.8 2618.0h-18M288.5 2675.2h18M2224.8 2675.2h-18M288.5 2732.5h18M2224.8 2732.5h-18M288.5 2789.8h18M2224.8 2789.8h-18M288.5 2847.1h18M2224.8 2847.1h-18M288.5 2904.4h18M2224.8 2904.4h-18M288.5 2961.6h18M2224.8 2961.6h-18M288.5 3018.9h18M2224.8 3018.9h-18M288.5 3076.2h18M2224.8 3076.2h-18M288.5 3133.5h18M2224.8 3133.5h-18M288.5 3190.8h18M2224.8 3190.8h-18M288.5 3248.0h18M2224.8 3248.0h-18" stroke="#262626" stroke-width="5" fill="none"/>
<path d="M280.4 2464.8H410.3V2469.3H280.4ZM1731.9 2464.8H2232.9V2469.3H1731.9ZM280.4 2493.4H766.1V2497.9H280.4ZM1016.2 2493.4H1080.8V2497.9H1016.2ZM351.4 2522.0H1174.4V2526.5H351.4ZM949.3 2550.7H1685.9V2555.2H949.3ZM1739.1 2550.7H1925.5V2555.2H1739.1ZM703.2 2579.3H1414.8V2583.8H703.2ZM1466.4 2579.3H1562.4V2583.8H1466.4ZM1256.7 2608.0H1938.4V2612.5H1256.7ZM280.4 2636.6H2232.9V2641.1H280.4ZM280.4 2665.2H2232.9V2669.7H280.4ZM280.4 2693.9H2232.9V2698.4H280.4ZM1468.0 2722.5H2232.9V2727.0H1468.0ZM280.4 2751.2H573.3V2755.7H280.4ZM2102.2 2751.2H2232.9V2755.7H2102.2ZM280.4 2779.8H808.9V2784.3H280.4ZM837.1 2779.8H988.8V2784.3H837.1ZM747.6 2808.4H1357.5V2812.9H747.6ZM897.6 2837.1H1769.0V2841.6H897.6ZM1529.3 2865.7H2232.9V2870.2H1529.3ZM280.4 2923.0H339.3V2927.5H280.4ZM1890.8 2923.0H2232.9V2927.5H1890.8ZM280.4 2951.6H683.8V2956.1H280.4ZM2072.3 2951.6H2232.9V2956.1H2072.3ZM1136.4 2980.3H2108.6V2984.8H1136.4ZM1380.1 3008.9H1400.3V3013.4H1380.1ZM1410.7 3008.9H1426.1V3013.4H1410.7ZM1435.8 3008.9H1472.1V3013.4H1435.8ZM1476.9 3008.9H1513.2V3013.4H1476.9ZM1707.6 3008.9H2232.9V3013.4H1707.6ZM355.5 3037.6H1095.3V3042.1H355.5ZM1134.8 3037.6H1335.7V3042.1H1134.8ZM1106.6 3066.2H1780.3V3070.7H1106.6ZM537.8 3094.8H1505.9V3099.3H537.8ZM1294.6 3123.5H2021.5V3128.0H1294.6ZM2083.6 3123.5H2133.6V3128.0H2083.6ZM280.4 3152.1H922.6V3156.6H280.4ZM524.1 3180.8H1247.0V3185.3H524.1ZM280.4 3209.4H337.7V3213.9H280.4ZM398.2 3209.4H548.3V3213.9H398.2ZM1731.9 3209.4H2232.9V3213.9H1731.9ZM280.4 3238.0H502.3V3242.5H280.4ZM524.1 3238.0H737.9V3242.5H524.1ZM1922.3 3238.0H2146.5V3242.5H1922.3Z" fill="#ff8c8c"/>
<path d="M280.4 2469.3H410.3V2479.8H280.4ZM1731.9 2469.3H2232.9V2479.8H1731.9ZM280.4 2497.9H766.1V2508.4H280.4ZM1016.2 2497.9H1080.8V2508.4H1016.2ZM351.4 2526.5H1174.4V2537.0H351.4ZM949.3 2555.2H1685.9V2565.7H949.3ZM1739.1 2555.2H1925.5V2565.7H1739.1ZM703.2 2583.8H1414.8V2594.3H703.2ZM1466.4 2583.8H1562.4V2594.3H1466.4ZM1256.7 2612.5H1938.4V2623.0H1256.7ZM280.4 2641.1H2232.9V2651.6H280.4ZM280.4 2669.7H2232.9V2680.2H280.4ZM280.4 2698.4H2232.9V2708.9H280.4ZM1468.0 2727.0H2232.9V2737.5H1468.0ZM280.4 2755.7H573.3V2766.2H280.4ZM2102.2 2755.7H2232.9V2766.2H2102.2ZM280.4 2784.3H808.9V2794.8H280.4ZM837.1 2784.3H988.8V2794.8H837.1ZM747.6 2812.9H1357.5V2823.4H747.6ZM897.6 2841.6H1769.0V2852.1H897.6ZM1529.3 2870.2H2232.9V2880.7H1529.3ZM280.4 2927.5H339.3V2938.0H280.4ZM1890.8 2927.5H2232.9V2938.0H1890.8ZM280.4 2956.1H683.8V2966.6H280.4ZM2072.3 2956.1H2232.9V2966.6H2072.3ZM1136.4 2984.8H2108.6V2995.3H1136.4ZM1380.1 3013.4H1400.3V3023.9H1380.1ZM1410.7 3013.4H1426.1V3023.9H1410.7ZM1435.8 3013.4H1472.1V3023.9H1435.8ZM1476.9 3013.4H1513.2V3023.9H1476.9ZM1707.6 3013.4H2232.9V3023.9H1707.6ZM355.5 3042.1H1095.3V3052.6H355.5ZM1134.8 3042.1H1335.7V3052.6H1134.8ZM1106.6 3070.7H1780.3V3081.2H1106.6ZM537.8 3099.3H1505.9V3109.8H537.8ZM1294.6 3128.0H2021.5V3138.5H1294.6ZM2083.6 3128.0H2133.6V3138.5H2083.6ZM280.4 3156.6H922.6V3167.1H280.4ZM524.1 3185.3H1247.0V3195.8H524.1ZM280.4 3213.9H337.7V3224.4H280.4ZM398.2 3213.9H548.3V3224.4H398.2ZM1731.9 3213.9H2232.9V3224.4H1731.9ZM280.4 3242.5H502.3V3253.0H280.4ZM524.1 3242.5H737.9V3253.0H524.1ZM1922.3 3242.5H2146.5V3253.0H1922.3Z" fill="#ff0000"/>
<path d="M280.4 2483.8H398.2V2488.3H280.4ZM1977.1 2483.8H2232.9V2488.3H1977.1ZM280.4 2512.4H609.6V2516.9H280.4ZM1016.2 2512.4H1080.8V2516.9H1016.2ZM604.8 2541.0H1141.3V2545.5H604.8ZM1008.2 2569.7H1280.0V2574.2H1008.2ZM1654.4 2569.7H1685.9V2574.2H1654.4ZM1739.1 2569.7H1925.5V2574.2H1739.1ZM925.9 2598.3H1414.8V2602.8H925.9ZM1466.4 2598.3H1562.4V2602.8H1466.4ZM1410.7 2627.0H1852.9V2631.5H1410.7ZM280.4 2655.6H904.1V2660.1H280.4ZM913.8 2655.6H925.9V2660.1H913.8ZM1330.9 2655.6H2232.9V2660.1H1330.9ZM280.4 2712.9H1542.3V2717.4H280.4ZM1897.2 2712.9H2232.9V2717.4H1897.2ZM1734.3 2741.5H2232.9V2746.0H1734.3ZM280.4 2770.2H535.4V2774.7H280.4ZM2138.5 2770.2H2232.9V2774.7H2138.5ZM364.3 2798.8H808.9V2803.3H364.3ZM837.1 2798.8H988.8V2803.3H837.1ZM846.0 2827.4H1242.1V2831.9H846.0ZM1169.5 2856.1H1750.4V2860.6H1169.5ZM1572.1 2884.7H1918.2V2889.2H1572.1ZM280.4 2942.0H339.3V2946.5H280.4ZM2138.5 2942.0H2232.9V2946.5H2138.5ZM280.4 2970.6H683.8V2975.1H280.4ZM1169.5 2999.3H1284.9V3003.8H1169.5ZM1735.1 2999.3H2108.6V3003.8H1735.1ZM1897.2 3027.9H2232.9V3032.4H1897.2ZM364.3 3056.6H660.4V3061.1H364.3ZM1134.8 3056.6H1335.7V3061.1H1134.8ZM1330.9 3085.2H1780.3V3089.7H1330.9ZM1169.5 3113.8H1505.9V3118.3H1169.5ZM1491.4 3142.5H2021.5V3147.0H1491.4ZM2083.6 3142.5H2133.6V3147.0H2083.6ZM604.8 3171.1H922.6V3175.6H604.8ZM766.1 3199.8H1247.0V3204.3H766.1ZM280.4 3228.4H337.7V3232.9H280.4ZM398.2 3228.4H548.3V3232.9H398.2ZM1734.3 3228.4H1940.0V3232.9H1734.3ZM443.4 3257.0H502.3V3261.5H443.4ZM524.1 3257.0H737.9V3261.5H524.1Z" fill="#8080ff"/>
<path d="M280.4 2473.8H398.2V2483.8H280.4ZM1977.1 2473.8H2232.9V2483.8H1977.1ZM280.4 2502.4H609.6V2512.4H280.4ZM1016.2 2502.4H1080.8V2512.4H1016.2ZM604.8 2531.0H1141.3V2541.0H604.8ZM1008.2 2559.7H1280.0V2569.7H1008.2ZM1654.4 2559.7H1685.9V2569.7H1654.4ZM1739.1 2559.7H1925.5V2569.7H1739.1ZM925.9 2588.3H1414.8V2598.3H925.9ZM1466.4 2588.3H1562.4V2598.3H1466.4ZM1410.7 2617.0H1852.9V2627.0H1410.7ZM280.4 2645.6H904.1V2655.6H280.4ZM913.8 2645.6H925.9V2655.6H913.8ZM1330.9 2645.6H2232.9V2655.6H1330.9ZM280.4 2702.9H1542.3V2712.9H280.4ZM1897.2 2702.9H2232.9V2712.9H1897.2ZM1734.3 2731.5H2232.9V2741.5H1734.3ZM280.4 2760.2H535.4V2770.2H280.4ZM2138.5 2760.2H2232.9V2770.2H2138.5ZM364.3 2788.8H808.9V2798.8H364.3ZM837.1 2788.8H988.8V2798.8H837.1ZM846.0 2817.4H1242.1V2827.4H846.0ZM1169.5 2846.1H1750.4V2856.1H1169.5ZM1572.1 2874.7H1918.2V2884.7H1572.1ZM280.4 2932.0H339.3V2942.0H280.4ZM2138.5 2932.0H2232.9V2942.0H2138.5ZM280.4 2960.6H683.8V2970.6H280.4ZM1169.5 2989.3H1284.9V2999.3H1169.5ZM1735.1 2989.3H2108.6V2999.3H1735.1ZM1897.2 3017.9H2232.9V3027.9H1897.2ZM364.3 3046.6H660.4V3056.6H364.3ZM1134.8 3046.6H1335.7V3056.6H1134.8ZM1330.9 3075.2H1780.3V3085.2H1330.9ZM1169.5 3103.8H1505.9V3113.8H1169.5ZM1491.4 3132.5H2021.5V3142.5H1491.4ZM2083.6 3132.5H2133.6V3142.5H2083.6ZM604.8 3161.1H922.6V3171.1H604.8ZM766.1 3189.8H1247.0V3199.8H766.1ZM280.4 3218.4H337.7V3228.4H280.4ZM398.2 3218.4H548.3V3228.4H398.2ZM1734.3 3218.4H1940.0V3228.4H1734.3ZM443.4 3247.0H502.3V3257.0H443.4ZM524.1 3247.0H737.9V3257.0H524.1Z" fill="#0000ff"/>
<text x="254.5" y="2513.9" class="yl" text-anchor="end" textLength="121" lengthAdjust="spacingAndGlyphs">C45</text>
<text x="254.5" y="2571.2" class="yl" text-anchor="end" textLength="121" lengthAdjust="spacingAndGlyphs">C43</text>
<text x="254.5" y="2628.5" class="yl" text-anchor="end" textLength="121" lengthAdjust="spacingAndGlyphs">C41</text>
<text x="254.5" y="2685.7" class="yl" text-anchor="end" textLength="121" lengthAdjust="spacingAndGlyphs">C39</text>
<text x="254.5" y="2743.0" class="yl" text-anchor="end" textLength="121" lengthAdjust="spacingAndGlyphs">C37</text>
<text x="254.5" y="2800.3" class="yl" text-anchor="end" textLength="121" lengthAdjust="spacingAndGlyphs">C35</text>
<text x="254.5" y="2857.6" class="yl" text-anchor="end" textLength="121" lengthAdjust="spacingAndGlyphs">C33</text>
<text x="254.5" y="2914.9" class="yl" text-anchor="end" textLength="121" lengthAdjust="spacingAndGlyphs">C31</text>
<text x="254.5" y="2972.1" class="yl" text-anchor="end" textLength="121" lengthAdjust="spacingAndGlyphs">C29</text>
<text x="254.5" y="3029.4" class="yl" text-anchor="end" textLength="121" lengthAdjust="spacingAndGlyphs">C27</text>
<text x="254.5" y="3086.7" class="yl" text-anchor="end" textLength="121" lengthAdjust="spacingAndGlyphs">C25</text>
<text x="254.5" y="3144.0" class="yl" text-anchor="end" textLength="121" lengthAdjust="spacingAndGlyphs">C23</text>
<text x="254.5" y="3201.3" class="yl" text-anchor="end" textLength="121" lengthAdjust="spacingAndGlyphs">C21</text>
<text x="254.5" y="3258.5" class="yl" text-anchor="end" textLength="121" lengthAdjust="spacingAndGlyphs">C19</text>
<text x="288.5" y="3370.0" class="xl" text-anchor="middle">0</text>
<text x="449.9" y="3370.0" class="xl" text-anchor="middle">2</text>
<text x="611.2" y="3370.0" class="xl" text-anchor="middle">4</text>
<text x="772.6" y="3370.0" class="xl" text-anchor="middle">6</text>
<text x="933.9" y="3370.0" class="xl" text-anchor="middle">8</text>
<text x="1095.3" y="3370.0" class="xl" text-anchor="middle">10</text>
<text x="1256.7" y="3370.0" class="xl" text-anchor="middle">12</text>
<text x="1418.0" y="3370.0" class="xl" text-anchor="middle">14</text>
<text x="1579.4" y="3370.0" class="xl" text-anchor="middle">16</text>
<text x="1740.7" y="3370.0" class="xl" text-anchor="middle">18</text>
<text x="1902.1" y="3370.0" class="xl" text-anchor="middle">20</text>
<text x="2063.4" y="3370.0" class="xl" text-anchor="middle">22</text>
<text x="2224.8" y="3370.0" class="xl" text-anchor="middle">24</text>
<text x="1112.8" y="3451.2" class="tl" textLength="282.9" lengthAdjust="spacing">Time(h)</text>
<text x="1178.2" y="3563.3" class="cap" textLength="73.6" lengthAdjust="spacingAndGlyphs">(c)</text>
<text transform="translate(69.0,2978.0) rotate(-90)" x="0" y="0" class="nm" textLength="236.0" lengthAdjust="spacingAndGlyphs">SGOC</text>
<text transform="translate(1510.7,3200.0) scale(0.86,1)" x="0" y="0" class="av" textLength="725.9" lengthAdjust="spacing">Availability = 57.2%</text>
<circle cx="848" cy="62.5" r="7" fill="#ff4040"/><circle cx="848" cy="62.5" r="4.5" fill="#ff0000"/>
<circle cx="1316" cy="62.5" r="7" fill="#4040ff"/><circle cx="1316" cy="62.5" r="4.5" fill="#0000ff"/>
<text x="969" y="75.4" class="lg" textLength="201" lengthAdjust="spacingAndGlyphs">visible</text>
<text x="1437" y="75.4" class="lg" textLength="267" lengthAdjust="spacingAndGlyphs">available</text>
</svg></body></html>
